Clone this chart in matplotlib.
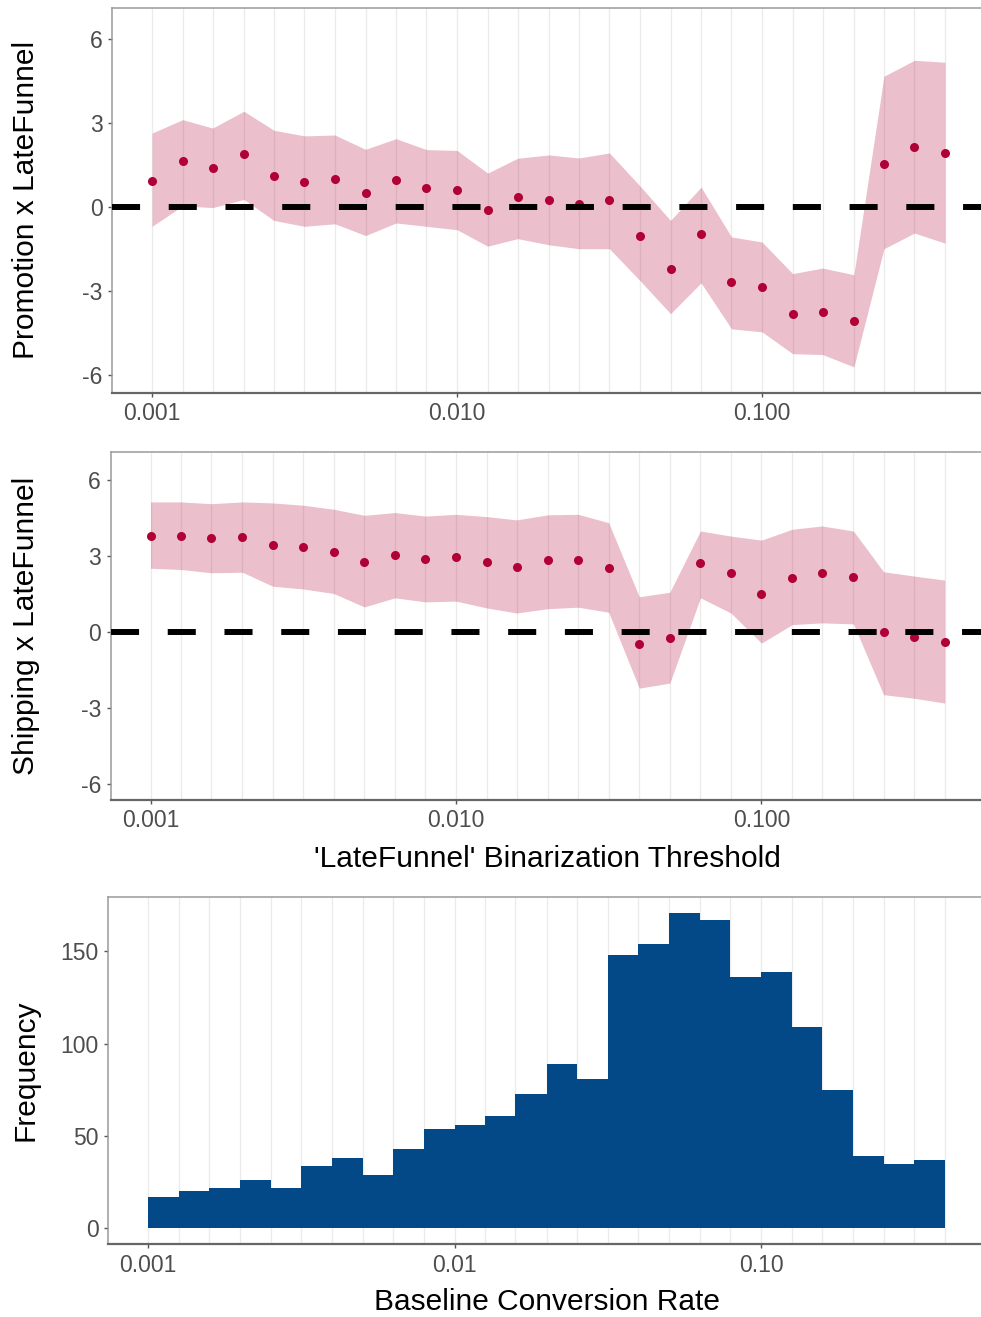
import matplotlib
matplotlib.use("Agg")
import matplotlib.pyplot as plt
from matplotlib.ticker import NullFormatter
import numpy as np

plt.rcParams['font.family'] = ['Liberation Sans', 'DejaVu Sans']
plt.rcParams['axes.unicode_minus'] = False

# binarization thresholds (also the histogram bin edges)
thresholds = [0.001, 0.00126, 0.00158, 0.002, 0.00251, 0.00316, 0.00398, 0.00501, 0.00631,
              0.00794, 0.01, 0.0126, 0.0158, 0.02, 0.0251, 0.0316, 0.0398, 0.0501, 0.0631,
              0.0794, 0.1, 0.126, 0.158, 0.2, 0.251, 0.316, 0.398]

promo_est = [0.93, 1.64, 1.39, 1.88, 1.11, 0.89, 1.00, 0.51, 0.98, 0.69, 0.61, -0.12, 0.35, 0.24,
             0.10, 0.24, -1.05, -2.20, -0.98, -2.69, -2.87, -3.81, -3.75, -4.08, 1.54, 2.14, 1.92]
promo_hi = [2.64, 3.12, 2.82, 3.42, 2.74, 2.54, 2.57, 2.06, 2.44, 2.05, 2.02, 1.21, 1.74, 1.86,
            1.75, 1.93, 0.75, -0.48, 0.71, -1.07, -1.25, -2.38, -2.18, -2.42, 4.67, 5.24, 5.17]
promo_lo = [-0.69, 0.04, -0.02, 0.27, -0.48, -0.69, -0.60, -1.02, -0.57, -0.69, -0.81, -1.40, -1.13, -1.35,
            -1.49, -1.49, -2.63, -3.81, -2.71, -4.35, -4.46, -5.24, -5.27, -5.71, -1.49, -0.93, -1.29]

ship_est = [3.79, 3.79, 3.71, 3.75, 3.43, 3.37, 3.16, 2.77, 3.04, 2.89, 2.96, 2.77, 2.58, 2.84,
            2.84, 2.54, -0.46, -0.24, 2.73, 2.32, 1.52, 2.14, 2.32, 2.17, 0.00, -0.21, -0.40]
ship_hi = [5.14, 5.14, 5.07, 5.14, 5.10, 5.01, 4.85, 4.61, 4.72, 4.58, 4.65, 4.56, 4.43, 4.63,
           4.65, 4.32, 1.39, 1.57, 3.99, 3.79, 3.63, 4.06, 4.19, 3.99, 2.38, 2.21, 2.05]
ship_lo = [2.52, 2.47, 2.34, 2.36, 1.81, 1.70, 1.52, 0.99, 1.35, 1.19, 1.22, 0.95, 0.75, 0.92,
           0.98, 0.78, -2.22, -2.02, 1.35, 0.75, -0.44, 0.29, 0.36, 0.32, -2.48, -2.62, -2.81]

hist_counts = [17, 20, 22, 26, 22, 34, 38, 29, 43, 54, 56, 61, 73, 89, 81, 148, 154, 171,
               167, 136, 139, 109, 75, 39, 35, 37]

red = "#B00035"
blue = "#034887"
W, H = 981, 1317


def style(ax, major, labels):
    ax.set_xscale("log")
    ax.set_xlim(10 ** -3.13, 10 ** -0.27)
    ax.set_xticks(major)
    ax.set_xticklabels(labels)
    ax.set_xticks(thresholds, minor=True)
    ax.xaxis.set_minor_formatter(NullFormatter())
    ax.tick_params(axis="x", which="minor", length=0)
    ax.tick_params(which="major", length=3, width=1, color="#555555",
                   labelsize=16.5, labelcolor="#4D4D4D", pad=4)
    ax.grid(True, axis="x", which="both", color="#EBEBEB", lw=1)
    ax.set_axisbelow(True)
    for s in ["top", "left"]:
        ax.spines[s].set_color("#9A9A9A")
        ax.spines[s].set_linewidth(1.1)
    ax.spines["right"].set_visible(False)
    ax.spines["bottom"].set_color("#666666")
    ax.spines["bottom"].set_linewidth(1.6)


def coef_panel(ax, est, lo, hi):
    ax.fill_between(thresholds, lo, hi, color=red, alpha=0.25, lw=0, zorder=2)
    ax.plot(thresholds, est, "o", color=red, ms=6.5, mew=0, zorder=3)
    ax.axhline(0, color="black", lw=4.3, dashes=(4.7, 4.8), zorder=4)
    ax.set_ylim(-6.625, 7.125)
    ax.set_yticks([-6, -3, 0, 3, 6])


fig = plt.figure(figsize=(W / 100, H / 100), dpi=100)

ax1 = fig.add_axes([112.4 / W, 1 - 392.5 / H, 872.3 / W, 385 / H])
style(ax1, [0.001, 0.01, 0.1], ["0.001", "0.010", "0.100"])
coef_panel(ax1, promo_est, promo_lo, promo_hi)

ax2 = fig.add_axes([110.8 / W, 1 - 799.6 / H, 873.7 / W, 347.9 / H])
style(ax2, [0.001, 0.01, 0.1], ["0.001", "0.010", "0.100"])
coef_panel(ax2, ship_est, ship_lo, ship_hi)

ax3 = fig.add_axes([108.2 / W, 1 - 1244.1 / H, 876.6 / W, 347.2 / H])
style(ax3, [0.001, 0.01, 0.1], ["0.001", "0.01", "0.10"])
ax3.stairs(hist_counts, thresholds, fill=True, color=blue, zorder=2)
ax3.set_ylim(-8.55, 179.55)
ax3.set_yticks([0, 50, 100, 150])

fig.text(26 / W, 1 - 200 / H, "Promotion x LateFunnel", rotation=90,
         ha="center", va="center", fontsize=21.5)
fig.text(26 / W, 1 - 625.7 / H, "Shipping x LateFunnel", rotation=90,
         ha="center", va="center", fontsize=21.5)
fig.text(26 / W, 1 - 1070.5 / H, "Frequency", rotation=90,
         ha="center", va="center", fontsize=21.5)
fig.text(547 / W, 1 - 867 / H, "'LateFunnel' Binarization Threshold",
         ha="center", va="baseline", fontsize=21.5)
fig.text(547 / W, 1 - 1310 / H, "Baseline Conversion Rate",
         ha="center", va="baseline", fontsize=21.5)

fig.savefig("out.png", dpi=100, facecolor="white")
